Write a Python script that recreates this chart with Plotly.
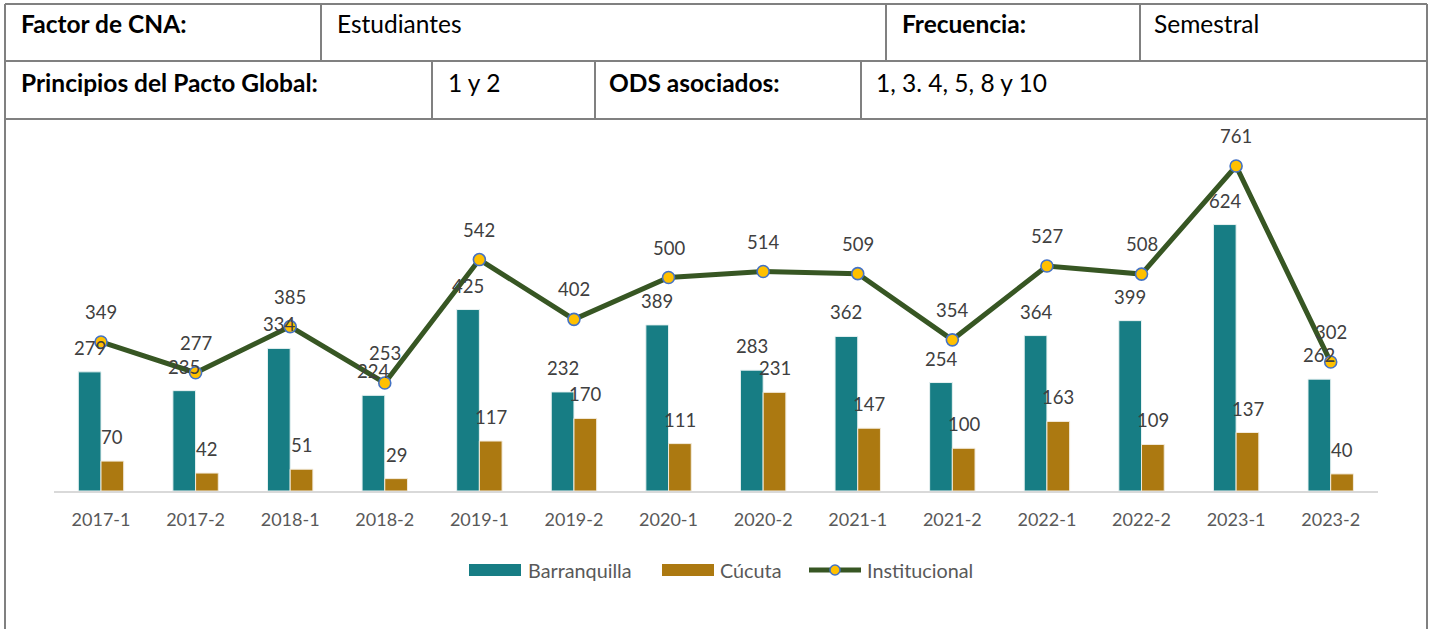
import plotly.graph_objects as go

# ---------------- data ----------------
categories = ["2017-1", "2017-2", "2018-1", "2018-2", "2019-1", "2019-2", "2020-1",
              "2020-2", "2021-1", "2021-2", "2022-1", "2022-2", "2023-1", "2023-2"]
barranquilla = [279, 235, 334, 224, 425, 232, 389, 283, 362, 254, 364, 399, 624, 262]
cucuta = [70, 42, 51, 29, 117, 170, 111, 231, 147, 100, 163, 109, 137, 40]
institucional = [349, 277, 385, 253, 542, 402, 500, 514, 509, 354, 527, 508, 761, 302]
series_names = ["Barranquilla", "Cúcuta", "Institucional"]

table_row1 = [("Factor de CNA:", True), ("Estudiantes", False), ("Frecuencia:", True), ("Semestral", False)]
table_row2 = [("Principios del Pacto Global:", True), ("1 y 2", False), ("ODS asociados:", True),
              ("1, 3. 4, 5, 8 y 10", False)]

# ---------------- styles ----------------
W, H = 1432, 629
TEAL = "#177D84"
GOLD = "#AC7911"
GREEN = "#375623"
YELLOW = "#FFC000"
BLUE = "#4472C4"
BORDER = "#808080"
FONT = "Lato"


def px(x):
    return x / W


def py(y):
    return 1 - y / H


fig = go.Figure()
fig.add_trace(go.Bar(x=categories, y=barranquilla, name=series_names[0],
                     marker=dict(color=TEAL, line=dict(color="#E8F2F2", width=1)),
                     showlegend=False, hoverinfo="x+y"))
fig.add_trace(go.Bar(x=categories, y=cucuta, name=series_names[1],
                     marker=dict(color=GOLD, line=dict(color="#F3EBDC", width=1)),
                     showlegend=False, hoverinfo="x+y"))
fig.add_trace(go.Scatter(x=categories, y=institucional, name=series_names[2], mode="lines+markers",
                         line=dict(color=GREEN, width=5),
                         marker=dict(size=12, color=YELLOW, line=dict(color=BLUE, width=1.6)),
                         showlegend=False))

annotations = []
label_font = dict(family=FONT, size=18.5, color="#404040")
for c, v in zip(categories, barranquilla):
    annotations.append(dict(x=c, y=v, xref="x", yref="y", text=str(v), showarrow=False,
                            xshift=-11.4, yshift=24, font=label_font))
for c, v in zip(categories, cucuta):
    annotations.append(dict(x=c, y=v, xref="x", yref="y", text=str(v), showarrow=False,
                            xshift=11.4, yshift=24, font=label_font))
for c, v in zip(categories, institucional):
    annotations.append(dict(x=c, y=v, xref="x", yref="y", text=str(v), showarrow=False,
                            xshift=0, yshift=30, font=label_font))

shapes = []
line_style = dict(color=BORDER, width=2)


def hline(x0, x1, y):
    shapes.append(dict(type="line", xref="paper", yref="paper", x0=px(x0), x1=px(x1),
                       y0=py(y), y1=py(y), line=line_style))


def vline(x, y0, y1):
    shapes.append(dict(type="line", xref="paper", yref="paper", x0=px(x), x1=px(x),
                       y0=py(y0), y1=py(y1), line=line_style))


# table grid
hline(5, 1427, 4)
hline(5, 1427, 61)
hline(5, 1427, 119)
for xv in [5, 321, 886, 1140, 1427]:
    vline(xv, 4, 61)
for xv in [5, 432, 595, 861, 1427]:
    vline(xv, 61, 119)
# chart box sides
vline(5, 119, 629)
vline(1427, 119, 629)

# table text
row1_x = [19, 335, 900, 1152]
row2_x = [19, 446, 607, 874]
table_font = dict(family=FONT, size=24.5, color="#000000")
for (txt, bold), xv in zip(table_row1, row1_x):
    annotations.append(dict(x=px(xv), y=py(24), xref="paper", yref="paper", xanchor="left",
                            yanchor="middle", showarrow=False,
                            text=f"<b>{txt}</b>" if bold else txt, font=table_font))
for (txt, bold), xv in zip(table_row2, row2_x):
    annotations.append(dict(x=px(xv), y=py(82), xref="paper", yref="paper", xanchor="left",
                            yanchor="middle", showarrow=False,
                            text=f"<b>{txt}</b>" if bold else txt, font=table_font))

# custom legend
leg_font = dict(family=FONT, size=19.8, color="#595959")
shapes.append(dict(type="rect", xref="paper", yref="paper", x0=px(469), x1=px(521), y0=py(576), y1=py(564),
                   fillcolor=TEAL, line=dict(width=0)))
shapes.append(dict(type="rect", xref="paper", yref="paper", x0=px(662), x1=px(714), y0=py(576), y1=py(564),
                   fillcolor=GOLD, line=dict(width=0)))
shapes.append(dict(type="line", xref="paper", yref="paper", x0=px(809), x1=px(861), y0=py(570), y1=py(570),
                   line=dict(color=GREEN, width=5)))
shapes.append(dict(type="circle", xref="paper", yref="paper", x0=px(830), x1=px(840), y0=py(575), y1=py(565),
                   fillcolor=YELLOW, line=dict(color=BLUE, width=1.5)))
for txt, xv in zip(series_names, [526, 718, 865]):
    annotations.append(dict(x=px(xv), y=py(570), xref="paper", yref="paper", xanchor="left",
                            yanchor="middle", showarrow=False, text=txt, font=leg_font))

fig.update_layout(
    width=W, height=H, margin=dict(l=0, r=0, t=0, b=0),
    paper_bgcolor="white", plot_bgcolor="white",
    barmode="group", bargap=0.52, bargroupgap=0,
    shapes=shapes, annotations=annotations,
    xaxis=dict(domain=[px(53.7), px(1378)], type="category", range=[-0.5, len(categories) - 0.5],
               showgrid=False, showline=True,
               linecolor="#D9D9D9", linewidth=2, ticks="outside", ticklen=11,
               tickcolor="rgba(0,0,0,0)", tickfont=dict(family=FONT, size=18, color="#595959"),
               fixedrange=True),
    yaxis=dict(domain=[py(491), py(130)], range=[0, (491 - 130) / 0.427], visible=False,
               showgrid=False, fixedrange=True),
    font=dict(family=FONT),
)

fig.write_html("out.html", config={"displayModeBar": False},
               post_script="document.body.style.margin='0px';document.body.style.overflow='hidden';")
